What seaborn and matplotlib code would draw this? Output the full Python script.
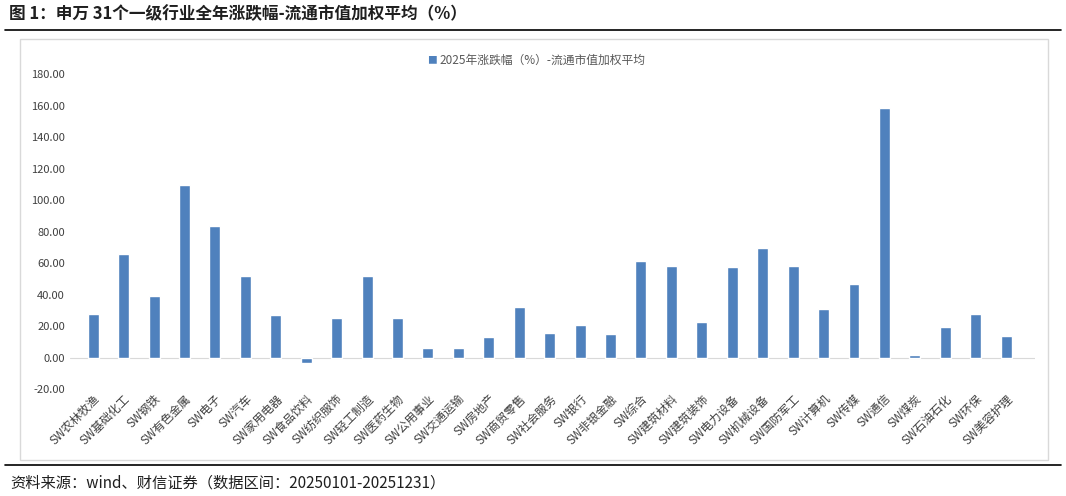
import matplotlib
matplotlib.use("Agg")
import matplotlib.pyplot as plt
import seaborn as sns
import pandas as pd
from matplotlib.patches import Rectangle
from matplotlib.lines import Line2D

categories = ["SW农林牧渔","SW基础化工","SW钢铁","SW有色金属","SW电子","SW汽车","SW家用电器","SW食品饮料",
              "SW纺织服饰","SW轻工制造","SW医药生物","SW公用事业","SW交通运输","SW房地产","SW商贸零售","SW社会服务",
              "SW银行","SW非银金融","SW综合","SW建筑材料","SW建筑装饰","SW电力设备","SW机械设备","SW国防军工",
              "SW计算机","SW传媒","SW通信","SW煤炭","SW石油石化","SW环保","SW美容护理"]
values = [28,66,39.5,110,83.5,52,27,-3,25,52,25,6,6,13,32,16,21,15,61.5,58.5,23,57.5,70,58.5,31,47,158.5,2,19.5,28,14]
series_name = "2025年涨跌幅（%）-流通市值加权平均"

sns.set_theme(style="white")
plt.rcParams['font.family'] = ['Noto Sans CJK SC', 'DejaVu Sans']

fig = plt.figure(figsize=(10.66, 4.96), dpi=100)
ax = fig.add_axes([0.066, 0.215, 0.905, 0.635])
df = pd.DataFrame({"cat": categories, "val": values})
sns.barplot(data=df, x="cat", y="val", color="#4f81bd", saturation=1, width=0.36, ax=ax)
ax.set_ylim(-20, 180)
ax.set_yticks(range(-20, 181, 20))
ax.set_yticklabels([f"{v:.2f}" for v in range(-20, 181, 20)], fontsize=8, color="#404040")
ax.set_xlabel(""); ax.set_ylabel("")
ax.set_xticks(range(len(categories)))
ax.set_xticklabels(categories, rotation=45, ha="right", rotation_mode="anchor", fontsize=8.5, color="#404040")
ax.tick_params(axis='x', length=0, pad=2)
ax.tick_params(axis='y', length=0, pad=4)
for s in ax.spines.values():
    s.set_visible(False)
ax.axhline(0, color="#d9d9d9", lw=0.8, zorder=0)
ax.set_xlim(-0.75, len(categories) - 0.05)

# legend
fig.text(0.405, 0.878, "■", color="#4f81bd", fontsize=7, va="center", ha="center")
fig.text(0.412, 0.878, series_name, fontsize=8.5, color="#595959", va="center", ha="left")

# chart border
fig.add_artist(Rectangle((0.019, 0.072), 0.964, 0.85, transform=fig.transFigure, fill=False, ec="#d9d9d9", lw=1))
# title & lines
fig.text(0.008, 0.972, "图 1：申万 31个一级行业全年涨跌幅-流通市值加权平均（%）", fontsize=12, fontweight="bold",
         color="#1f1f1f", va="center", ha="left")
fig.add_artist(Line2D([0.005, 0.995], [0.94, 0.94], color="black", lw=1.2, transform=fig.transFigure))
fig.add_artist(Line2D([0.005, 0.995], [0.062, 0.062], color="black", lw=1.2, transform=fig.transFigure))
fig.text(0.01, 0.027, "资料来源：wind、财信证券（数据区间：20250101-20251231）", fontsize=11, style="italic",
         color="#1f1f1f", va="center", ha="left")

fig.savefig("out.png", dpi=100)
